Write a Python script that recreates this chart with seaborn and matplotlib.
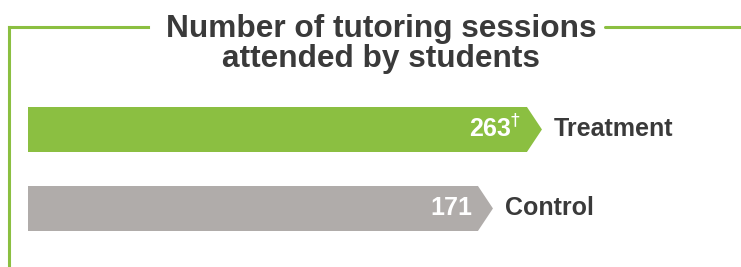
import matplotlib
matplotlib.use("Agg")
import matplotlib.pyplot as plt
import seaborn as sns
import pandas as pd
from matplotlib.patches import Polygon
from matplotlib.lines import Line2D

groups = ["Treatment", "Control"]
sessions = [263, 171]
value_labels = ["263$^{\u2020}$", "171"]
title = "Number of tutoring sessions\nattended by students"

GREEN = "#8bbf41"
GRAY = "#b0acaa"
DARK = "#3a3a3a"

sns.set_theme(style="white")
plt.rcParams["font.family"] = ["Liberation Sans", "DejaVu Sans"]

W, H = 741, 267
fig = plt.figure(figsize=(W / 100, H / 100), dpi=100)
ax = fig.add_axes([28 / W, 0, (W - 28) / W, 1])

base = 674  # visual offset where the bars start
df = pd.DataFrame({"group": groups, "sessions": sessions})
df["shown"] = df["sessions"] + base
sns.barplot(data=df, y="group", x="shown", hue="group", palette=[GREEN, GRAY],
            orient="h", width=0.57, ax=ax, legend=False, saturation=1)

for p in ax.patches:
    p.set_x(-base)
    p.set_linewidth(0)

ax.set_xlim(-base, 665)
ax.set_ylim(1.741, -1.639)
ax.axis("off")

k = 0.5326  # px per unit
tip = 15 / k
for p, col, lab, grp in zip(ax.patches, [GREEN, GRAY], value_labels, groups):
    x1 = p.get_x() + p.get_width()
    y0 = p.get_y()
    h = p.get_height()
    ax.add_patch(Polygon([(x1 - 0.5, y0), (x1, y0), (x1 + tip, y0 + h / 2),
                          (x1, y0 + h), (x1 - 0.5, y0 + h)],
                         closed=True, facecolor=col, edgecolor="none"))
    ax.text(x1 - 6 / k, y0 + h / 2, lab, color="white", fontsize=18,
            fontweight="bold", ha="right", va="center")
    ax.text(x1 + tip + 12 / k, y0 + h / 2, grp, color=DARK, fontsize=18,
            fontweight="bold", ha="left", va="center")

lw = 2.2
fig.add_artist(Line2D([9 / W, 9 / W], [0, 1 - 27 / H], color=GREEN, lw=lw,
                      solid_capstyle="projecting"))
fig.add_artist(Line2D([9 / W, 148 / W], [1 - 27 / H, 1 - 27 / H], color=GREEN, lw=lw,
                      solid_capstyle="projecting"))
fig.add_artist(Line2D([605 / W, 1], [1 - 27 / H, 1 - 27 / H], color=GREEN, lw=lw))

fig.text(381 / W, 1 - 44 / H, title, ha="center", va="center", fontsize=22.8,
         fontweight="bold", color=DARK, linespacing=0.98)

fig.savefig("out.png", dpi=100)
